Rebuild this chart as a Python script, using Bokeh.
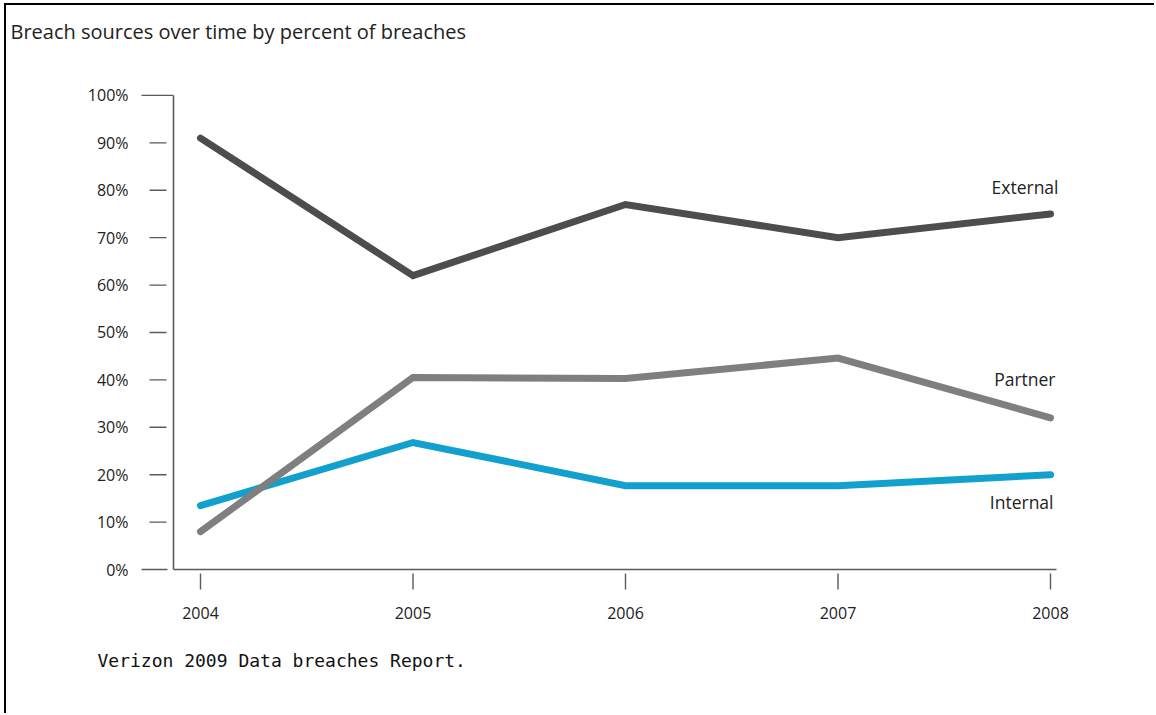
from bokeh.plotting import figure
from bokeh.models import Title, FixedTicker, Range1d
from bokeh.core.properties import value
from bokeh.embed import file_html
from bokeh.resources import INLINE

# ---------------- data ----------------
years = [2004, 2005, 2006, 2007, 2008]
external = [91, 62, 77, 70, 75]
partner = [8, 40.5, 40.3, 44.6, 32]
internal = [13.5, 26.8, 17.7, 17.7, 20]
series_names = ["External", "Partner", "Internal"]
y_ticks = [0, 10, 20, 30, 40, 50, 60, 70, 80, 90, 100]
y_tick_labels = ["0%", "10%", "20%", "30%", "40%", "50%", "60%", "70%", "80%", "90%", "100%"]
x_tick_labels = ["2004", "2005", "2006", "2007", "2008"]
title_text = "Breach sources over time by percent of breaches"
source_text = "Verizon 2009 Data breaches Report."

# ---------------- layout (page pixels) ----------------
OX, OY = 6, 5                      # canvas origin inside page (css margin)
PX_YEAR = 212.5                    # pixels per year
PX_PCT = 4.75                      # pixels per percent
X0_PAGE, Y0_PAGE = 200, 569        # page position of (2004, 0%)
F_LEFT, F_RIGHT, F_TOP, F_BOTTOM = 135, 1065, 53, 597
W, H = 1156 - OX, 715 - OY

def dx(px):
    return px / PX_YEAR

def dy(px):
    return px / PX_PCT

xr = Range1d(years[0] + dx(F_LEFT - X0_PAGE), years[0] + dx(F_RIGHT - X0_PAGE))
yr = Range1d(dy(Y0_PAGE - F_BOTTOM), dy(Y0_PAGE - F_TOP))

p = figure(width=W, height=H, x_range=xr, y_range=yr,
           output_backend="svg", toolbar_location=None,
           min_border_left=F_LEFT - OX, min_border_right=OX + W - F_RIGHT,
           min_border_top=F_TOP - OY, min_border_bottom=OY + H - F_BOTTOM)
# page frame: thin black rule along the left and top edges
p.styles = {"margin-left": f"{OX}px", "margin-top": f"{OY}px",
            "box-shadow": "-2px -2px 0px 0px #000000"}
p.outline_line_color = None
p.grid.visible = False
p.background_fill_color = "white"
p.border_fill_color = "white"

AXIS_COLOR = "#5a5a5a"
TEXT_COLOR = "#222222"

# title and source note
title = Title(text=title_text, align="left", offset=10 - F_LEFT,
              text_font="Open Sans", text_font_size="20px",
              text_font_style="normal", text_color=TEXT_COLOR)
note = Title(text=source_text, align="left", offset=97 - F_LEFT,
             text_font="DejaVu Sans Mono", text_font_size="18px",
             text_font_style="normal", text_color="#111111")
if "standoff" in Title.properties():
    title.standoff = 20
    note.standoff = 53
p.title = title
p.add_layout(note, "below")

# axes (labels only; lines drawn below)
p.xaxis.ticker = FixedTicker(ticks=years)
p.xaxis.major_label_overrides = {y: s for y, s in zip(years, x_tick_labels)}
p.yaxis.ticker = FixedTicker(ticks=y_ticks)
p.yaxis.major_label_overrides = {t: s for t, s in zip(y_ticks, y_tick_labels)}
for ax in (p.xaxis, p.yaxis):
    ax.axis_line_color = None
    ax.major_tick_line_color = None
    ax.minor_tick_line_color = None
    ax.major_tick_in = 0
    ax.major_tick_out = 0
    ax.major_label_text_font = "Open Sans"
    ax.major_label_text_font_size = "16px"
    ax.major_label_text_color = TEXT_COLOR
p.xaxis.major_label_standoff = 9
p.yaxis.major_label_standoff = 7

# axis lines
x_axis_pos = years[0] - dx(27)
p.segment(x0=[x_axis_pos], y0=[y_ticks[0]], x1=[years[-1] + dx(6)], y1=[y_ticks[0]],
          line_color=AXIS_COLOR, line_width=1.6)
p.segment(x0=[x_axis_pos], y0=[y_ticks[0]], x1=[x_axis_pos], y1=[y_ticks[-1]],
          line_color=AXIS_COLOR, line_width=1.6)

# y ticks (detached from the axis line)
mid = y_ticks[1:-1]
p.segment(x0=[years[0] - dx(51)] * len(mid), y0=mid,
          x1=[years[0] - dx(34)] * len(mid), y1=mid,
          line_color=AXIS_COLOR, line_width=1.4)
p.segment(x0=[years[0] - dx(59)], y0=[y_ticks[-1]], x1=[x_axis_pos], y1=[y_ticks[-1]],
          line_color=AXIS_COLOR, line_width=1.4)
p.segment(x0=[years[0] - dx(59)], y0=[y_ticks[0]], x1=[years[0] - dx(33)], y1=[y_ticks[0]],
          line_color=AXIS_COLOR, line_width=1.4)

# x ticks
p.segment(x0=years, y0=[-dy(4)] * len(years), x1=years, y1=[-dy(20)] * len(years),
          line_color=AXIS_COLOR, line_width=1.4)

# series
colors = {"External": "#4d4d4d", "Partner": "#7f7f80", "Internal": "#12a1cf"}
data = {"External": external, "Partner": partner, "Internal": internal}
for name in ["Internal", "Partner", "External"]:
    p.line(years, data[name], line_width=7, line_color=colors[name],
           line_cap="round", line_join="miter")

# series labels near the end of each line
label_offsets = {"External": (8, -27), "Partner": (5, -39), "Internal": (3, 27)}
for name in series_names:
    ox, oy = label_offsets[name]
    p.text(x=[years[-1]], y=[data[name][-1]], text=[name],
           x_offset=ox, y_offset=oy, text_align="right", text_baseline="middle",
           text_font=value("Open Sans"), text_font_size="17.5px", text_color=TEXT_COLOR)

open("out.html", "w").write(file_html(p, INLINE))
